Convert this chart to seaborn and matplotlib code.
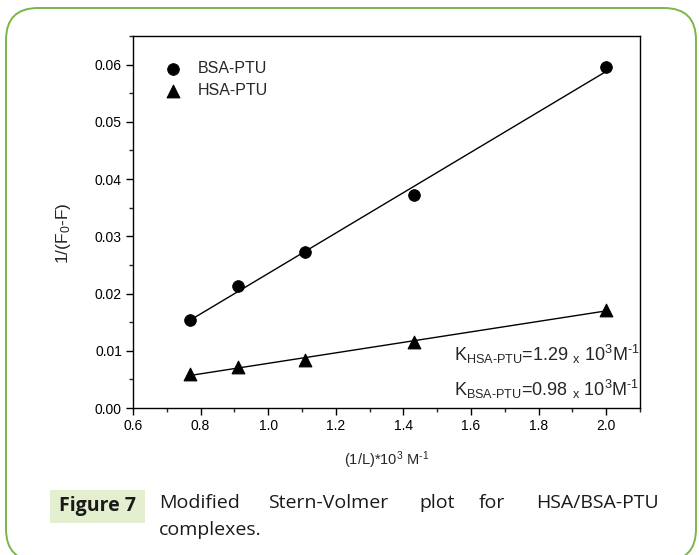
import matplotlib
matplotlib.use("Agg")
import matplotlib.pyplot as plt
from matplotlib.patches import FancyBboxPatch, Rectangle
from matplotlib.ticker import MultipleLocator
import seaborn as sns
import pandas as pd

# ---- data ----
inv_L = [0.77, 0.91, 1.11, 1.43, 2.00]
bsa_ptu = [0.0153, 0.0213, 0.0272, 0.0373, 0.0595]
hsa_ptu = [0.0060, 0.0071, 0.0084, 0.0115, 0.0172]
series_names = ["BSA-PTU", "HSA-PTU"]
x_ticks = [0.6, 0.8, 1.0, 1.2, 1.4, 1.6, 1.8, 2.0]
y_ticks = [0.00, 0.01, 0.02, 0.03, 0.04, 0.05, 0.06]
k_hsa = "1.29"
k_bsa = "0.98"

sns.set_style("ticks")
plt.rcParams["font.family"] = ["Liberation Sans", "DejaVu Sans"]
plt.rcParams["mathtext.fontset"] = "custom"
plt.rcParams["mathtext.rm"] = "Liberation Sans"
plt.rcParams["mathtext.it"] = "Liberation Sans:italic"
plt.rcParams["mathtext.bf"] = "Liberation Sans:bold"

W, H = 699, 555
fig = plt.figure(figsize=(W / 100, H / 100), dpi=100)
fig.patch.set_facecolor("white")

# rounded green frame (display pixels); bottom edge runs just below the image
frame = FancyBboxPatch((6, -6), 690, 553, boxstyle="round,pad=0,rounding_size=32",
                       transform=None, facecolor="none", edgecolor="#7ab648", linewidth=1.4)
fig.add_artist(frame)

ax = fig.add_axes([133 / W, 1 - 408 / H, (640 - 133) / W, (408 - 36) / H])

df = pd.DataFrame({"x": inv_L, "BSA": bsa_ptu, "HSA": hsa_ptu})

sns.regplot(data=df, x="x", y="BSA", ax=ax, scatter=False, ci=None,
            line_kws=dict(color="black", linewidth=1.0))
sns.regplot(data=df, x="x", y="HSA", ax=ax, scatter=False, ci=None,
            line_kws=dict(color="black", linewidth=1.0))
sns.scatterplot(data=df, x="x", y="BSA", ax=ax, marker="o", s=70, color="black",
                edgecolor="black", label=series_names[0], zorder=3)
sns.scatterplot(data=df, x="x", y="HSA", ax=ax, marker="^", s=85, color="black",
                edgecolor="black", label=series_names[1], zorder=3)

ax.set_xlim(0.6, 2.1)
ax.set_ylim(0.0, 0.065)
ax.set_xticks(x_ticks)
ax.set_xticklabels([f"{v:.1f}" for v in x_ticks])
ax.set_yticks(y_ticks)
ax.set_yticklabels([f"{v:.2f}" for v in y_ticks])
ax.xaxis.set_minor_locator(MultipleLocator(0.1))
ax.yaxis.set_minor_locator(MultipleLocator(0.005))
ax.tick_params(axis="both", which="major", direction="out", length=5, width=1,
               labelsize=10, colors="black", pad=3)
ax.tick_params(axis="both", which="minor", direction="out", length=3, width=1)
ax.tick_params(top=False, right=False, which="both")
for sp in ax.spines.values():
    sp.set_visible(True)
    sp.set_linewidth(1.0)
    sp.set_color("black")

ax.set_xlabel("(1/L)*10$^{\\mathregular{3}}$ M$^{\\text{-}1}$", fontsize=10.5, labelpad=12)
ax.set_ylabel("1/(F$_{\\mathregular{0}}$-F)", fontsize=12.5)
ax.yaxis.set_label_coords(-0.118, 0.47)

leg = ax.legend(loc="upper left", bbox_to_anchor=(0.035, 0.95), frameon=False,
                fontsize=11.5, handletextpad=0.55, labelspacing=0.45, borderaxespad=0)

ax.text(0.634, 0.125,
        "K$_{\\text{HSA-PTU}}$=" + k_hsa +
        " $\\mathregular{_{x}}$ 10$^{\\mathregular{3}}$M$^{\\text{-}1}$",
        transform=ax.transAxes, fontsize=13, ha="left", va="baseline")
ax.text(0.634, 0.031,
        "K$_{\\text{BSA-PTU}}$=" + k_bsa +
        " $\\mathregular{_{x}}$ 10$^{\\mathregular{3}}$M$^{\\text{-}1}$",
        transform=ax.transAxes, fontsize=13, ha="left", va="baseline")

# caption
cap_font = ["Open Sans", "DejaVu Sans"]
box = Rectangle((50, H - 523), 95, 33, transform=None, facecolor="#e3efcf",
                edgecolor="none")
fig.add_artist(box)
fig.text(97.5 / W, 1 - 506.5 / H, "Figure 7", fontsize=14, fontweight="bold",
         family=cap_font, ha="center", va="center", color="#1a1a1a")
words = [("Modified", 159, "left"), ("Stern-Volmer", 268, "left"), ("plot", 419, "left"),
         ("for", 479, "left"), ("HSA/BSA-PTU", 659, "right")]
for w, xp, ha in words:
    fig.text(xp / W, 1 - 508 / H, w, fontsize=14, family=cap_font, ha=ha,
             va="baseline", color="#1a1a1a")
fig.text(159 / W, 1 - 535 / H, "complexes.", fontsize=14, family=cap_font,
         ha="left", va="baseline", color="#1a1a1a")

fig.savefig("out.png", dpi=100)
